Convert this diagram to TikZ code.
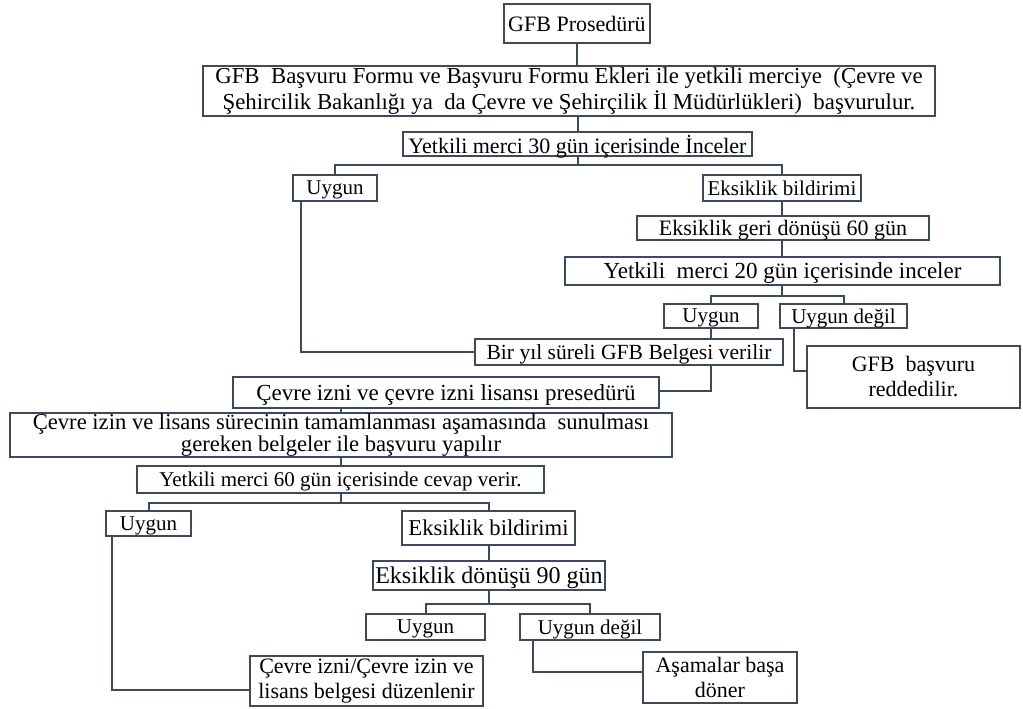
\documentclass[tikz,border=0pt]{standalone}
\usepackage{fontspec}
\setmainfont{Liberation Serif}
\usetikzlibrary{calc}
\definecolor{cizgi}{RGB}{60,74,92}

\begin{document}
\begin{tikzpicture}[x=0.5pt,y=-0.5pt,
	kutu/.style={draw=cizgi,line width=1pt,fill=white,inner sep=0pt,text depth=0pt,font=\fontsize{10.5}{12}\selectfont},
	kutuiki/.style={draw=cizgi,line width=1pt,fill=white,inner sep=0pt,align=center},
	hat/.style={draw=cizgi,line width=1pt}]
	\useasboundingbox (0,0) rectangle (1023,708);
	\node[kutu,minimum width=73pt,minimum height=19.5pt,font=\fontsize{11}{12}\selectfont] (gfb) at (577,23.5) {GFB Prosedürü};
	\node[kutuiki,minimum width=366pt,minimum height=25pt,font=\fontsize{11.4}{11.6}\selectfont] (basvuru) at (569,91) {GFB~ Başvuru Formu ve Başvuru Formu Ekleri ile yetkili merciye~ (Çevre ve\\Şehircilik Bakanlığı ya~ da Çevre ve Şehirçilik İl Müdürlükleri)~ başvurulur.};
	\node[kutu,minimum width=174.5pt,minimum height=12pt,font=\fontsize{11}{12}\selectfont] (inc30) at (577.5,144) {Yetkili merci 30 gün içerisinde İnceler};
	\node[kutu,minimum width=42pt,minimum height=13pt] (uyg1) at (335,188) {Uygun};
	\node[kutu,minimum width=79pt,minimum height=13pt] (eks1) at (782,188) {Eksiklik bildirimi};
	\node[kutu,minimum width=146pt,minimum height=12pt,font=\fontsize{11}{12}\selectfont] (geri60) at (783,228) {Eksiklik geri dönüşü 60 gün};
	\node[kutu,minimum width=217.5pt,minimum height=14pt,font=\fontsize{11.5}{12}\selectfont] (inc20) at (782.5,271) {Yetkili~ merci 20 gün içerisinde inceler};
	\node[kutu,minimum width=47pt,minimum height=12pt] (uyg2) at (711,316) {Uygun};
	\node[kutu,minimum width=63.5pt,minimum height=12pt] (red2) at (843.5,316) {Uygun değil};
	\node[kutu,minimum width=154pt,minimum height=13pt,font=\fontsize{10.8}{12}\selectfont] (belge) at (629,352) {Bir yıl süreli GFB Belgesi verilir};
	\node[kutuiki,minimum width=106.5pt,minimum height=31pt,font=\fontsize{11}{12.5}\selectfont] (ret) at (913.5,377) {GFB~ başvuru\\reddedilir.};
	%
	\node[kutu,minimum width=213pt,minimum height=15.5pt,font=\fontsize{11.5}{12}\selectfont] (cevre) at (446,392.5) {Çevre izni ve çevre izni lisansı presedürü};
	\node[kutuiki,minimum width=331pt,minimum height=22pt,font=\fontsize{11.3}{11}\selectfont] (basvuru2) at (341,435) {Çevre izin ve lisans sürecinin tamamlanması aşamasında~ sunulması\\gereken belgeler ile başvuru yapılır};
	\node[kutu,minimum width=203.5pt,minimum height=13.5pt] (cev60) at (340.5,479.5) {Yetkili merci 60 gün içerisinde cevap verir.};
	\node[kutu,minimum width=42.5pt,minimum height=12.5pt] (uyg3) at (148.5,523.5) {Uygun};
	\node[kutu,minimum width=86.5pt,minimum height=17pt,font=\fontsize{11.3}{12}\selectfont] (eks3) at (488.5,528) {Eksiklik bildirimi};
	\node[kutu,minimum width=116pt,minimum height=14.5pt,font=\fontsize{12}{13}\selectfont] (don90) at (489,575.5) {Eksiklik dönüşü 90 gün};
	\node[kutu,minimum width=59.5pt,minimum height=13pt] (uyg4) at (425.5,627) {Uygun};
	\node[kutu,minimum width=70pt,minimum height=13pt] (red4) at (590,627) {Uygun değil};
	\node[kutuiki,minimum width=116.5pt,minimum height=25pt,font=\fontsize{11}{12.5}\selectfont] (izin) at (366.5,681) {Çevre izni/Çevre izin ve\\lisans belgesi düzenlenir};
	\node[kutuiki,minimum width=77pt,minimum height=25.5pt,font=\fontsize{11}{12.5}\selectfont] (basa) at (720,677.5) {Aşamalar başa\\döner};
	%
	\draw[hat] (gfb.south) -- (gfb.south |- basvuru.north);
	\draw[hat] (inc30.north |- basvuru.south) -- (inc30.north);
	\draw[hat] (inc30.south) -- ++(0,8) coordinate (dal1);
	\draw[hat] (uyg1.north) |- (dal1) -| (eks1.north);
	\draw[hat] (eks1.south) -- (eks1.south |- geri60.north);
	\draw[hat] (eks1 |- geri60.south) -- (eks1 |- inc20.north);
	\draw[hat] (eks1 |- inc20.south) -- ++(0,10) coordinate (dal2);
	\draw[hat] (uyg2.north) |- (dal2) -| (red2.north);
	\draw[hat] (uyg2.south) -- (uyg2.south |- belge.north);
	\draw[hat] ($(uyg1.south west)+(9,0)$) |- (belge.west);
	\draw[hat] ($(red2.south west)+(15,0)$) |- ($(ret.west)+(0,-6)$);
	\draw[hat] (uyg2 |- belge.south) |- ($(cevre.east)+(0,-2)$);
	%
	\draw[hat] (basvuru2 |- cevre.south) -- (basvuru2.north);
	\draw[hat] (basvuru2.south) -- (basvuru2.south |- cev60.north);
	\draw[hat] (basvuru2 |- cev60.south) -- ++(0,9) coordinate (dal3);
	\draw[hat] (uyg3.north) |- (dal3) -| (eks3.north);
	\draw[hat] (eks3.south) -- (eks3.south |- don90.north);
	\draw[hat] (don90.south) -- ++(0,13) coordinate (dal4);
	\draw[hat] (uyg4.north) |- (dal4) -| (red4.north);
	\draw[hat] ($(uyg3.south west)+(7,0)$) |- ($(izin.west)+(0,9)$);
	\draw[hat] ($(red4.south west)+(14,0)$) |- ($(basa.west)+(0,-6)$);
\end{tikzpicture}
\end{document}
